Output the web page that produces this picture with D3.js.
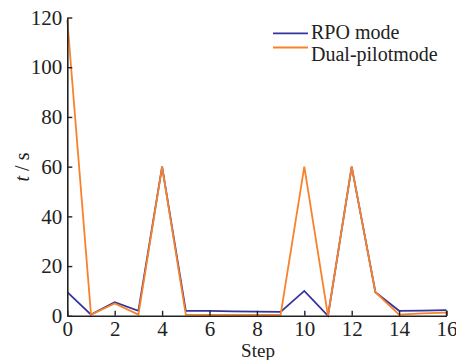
<!DOCTYPE html>
<html><head><meta charset="utf-8">
<script src="https://cdn.jsdelivr.net/npm/d3@7"></script>
<style>body{margin:0;background:#fff}svg{display:block}</style>
</head><body>
<svg id="c" width="456" height="360"></svg>
<script>
const steps = [0,1,2,3,4,5,6,7,8,9,10,11,12,13,14,15,16];
const rpo = [9.5,0.5,5.5,2,60,2,2,1.8,1.7,1.6,10,0,60,9.5,2,2.1,2.3];
const dual = [119,0.5,5,0.5,60,0.5,0.4,0.4,0.4,0.4,60,0,60,9.5,0.5,1,1.3];
const xTicks = [0,2,4,6,8,10,12,14,16];
const yTicks = [0,20,40,60,80,100,120];
const seriesNames = ["RPO mode","Dual-pilotmode"];
const colors = ["#34349e","#f8822a"];

const svg = d3.select("#c");
const font = "'Liberation Serif','Times New Roman',serif";
const x = d3.scaleLinear().domain([0,16]).range([67.3,446.5]);
const y = d3.scaleLinear().domain([0,120]).range([315.8,17.5]);

const line = d3.line().x((d,i)=>x(steps[i])).y(d=>y(d));
[rpo,dual].forEach((s,k)=>{
  svg.append("path").datum(s).attr("d",line).attr("fill","none")
    .attr("stroke",colors[k]).attr("stroke-width",1.8).attr("stroke-linejoin","miter");
});

const xa = svg.append("g").attr("transform",`translate(0,${y(0)})`)
  .call(d3.axisBottom(x).tickValues(xTicks).tickSize(-5).tickPadding(8).tickSizeOuter(0));
const ya = svg.append("g").attr("transform",`translate(${x(0)},0)`)
  .call(d3.axisLeft(y).tickValues(yTicks).tickSize(-5).tickPadding(5).tickSizeOuter(0));
[xa,ya].forEach(a=>{
  a.select(".domain").attr("stroke","#222").attr("stroke-width",1.6);
  a.selectAll(".tick line").attr("stroke","#222").attr("stroke-width",1.4);
  a.selectAll("text").attr("font-family",font).attr("font-size",21).attr("fill","#222");
});
xa.selectAll("text").attr("dy",null).attr("y",20.5);
svg.append("line").attr("x1",x(16)).attr("x2",x(16)).attr("y1",y(0)-5).attr("y2",y(0))
  .attr("stroke","#222").attr("stroke-width",1.4);

svg.append("text").attr("x",258).attr("y",357).attr("text-anchor","middle")
  .attr("font-family",font).attr("font-size",19).attr("fill","#222").text("Step");

const yl = svg.append("text").attr("transform","translate(29,167) rotate(-90)")
  .attr("text-anchor","middle").attr("font-family",font).attr("font-size",20).attr("fill","#222");
yl.append("tspan").attr("font-style","italic").text("t");
yl.append("tspan").text(" / s");

const legLineY = [33.3,47.5];
const legTextY = [38.5,61];
seriesNames.forEach((n,k)=>{
  svg.append("line").attr("x1",273).attr("x2",308).attr("y1",legLineY[k]).attr("y2",legLineY[k])
    .attr("stroke",colors[k]).attr("stroke-width",1.8);
  svg.append("text").attr("x",311).attr("y",legTextY[k]).attr("font-family",font)
    .attr("font-size",20).attr("fill","#222").text(n);
});
</script>
</body></html>
